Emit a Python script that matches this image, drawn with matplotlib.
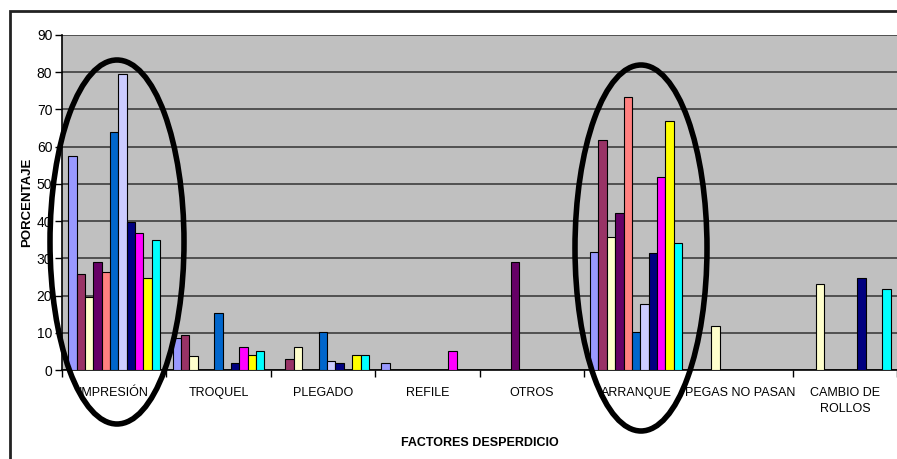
import matplotlib.pyplot as plt
import numpy as np
from matplotlib.patches import Ellipse, Rectangle

categorias = ['IMPRESIÓN', 'TROQUEL', 'PLEGADO', 'REFILE', 'OTROS',
              'ARRANQUE', 'PEGAS NO PASAN', 'CAMBIO DE\nROLLOS']

# porcentaje de desperdicio por factor, una serie por color
s1 = [57.6, 8.5, 0, 1.8, 0, 31.8, 0, 0]
s2 = [25.8, 9.3, 2.9, 0, 0, 61.7, 0, 0]
s3 = [19.7, 3.7, 6.2, 0, 0, 35.6, 11.7, 23.1]
s4 = [28.9, 0, 0, 0, 28.9, 42.1, 0, 0]
s5 = [26.4, 0, 0, 0, 0, 73.3, 0, 0]
s6 = [63.9, 15.2, 10.2, 0, 0, 10.2, 0, 0]
s7 = [79.5, 0, 2.5, 0, 0, 17.7, 0, 0]
s8 = [39.8, 2.0, 2.0, 0, 0, 31.5, 0, 24.6]
s9 = [36.7, 6.2, 0, 5.0, 0, 51.8, 0, 0]
s10 = [24.6, 3.9, 3.9, 0, 0, 67.0, 0, 0]
s11 = [34.9, 5.0, 3.9, 0, 0, 34.1, 0, 21.8]
series = [s1, s2, s3, s4, s5, s6, s7, s8, s9, s10, s11]
colores = ['#9999FF', '#993366', '#FFFFCC', '#660066', '#FF8080', '#0066CC',
           '#CCCCFF', '#000080', '#FF00FF', '#FFFF00', '#00FFFF']

plt.rcParams['font.family'] = ['Liberation Sans', 'DejaVu Sans']

W, H = 897, 459
fig = plt.figure(figsize=(W / 100, H / 100), dpi=100)
ax = fig.add_axes([62 / W, (H - 370) / H, (W - 62) / W, (370 - 35) / H])
ax.set_facecolor('#C0C0C0')

n = len(series)
ancho = 1 / (n + 1.5)
x = np.arange(len(categorias))
for j, (vals, c) in enumerate(zip(series, colores)):
    vals = np.array(vals, dtype=float)
    m = vals > 0
    ax.bar(x[m] + (j - (n - 1) / 2) * ancho, vals[m], width=ancho,
           color=c, edgecolor='black', linewidth=0.8, zorder=3)

ax.set_xlim(-0.5, len(categorias) - 0.5)
ax.set_ylim(0, 90)
ax.set_yticks(np.arange(0, 91, 10))
ax.yaxis.grid(True, color='#505050', linewidth=1.4, zorder=1)
ax.set_axisbelow(True)

ax.set_xticks(np.arange(len(categorias) + 1) - 0.5)
ax.set_xticklabels([])
ax.set_xticks(x, minor=True)
ax.set_xticklabels(categorias, minor=True, fontsize=9, linespacing=1.45)
ax.tick_params(axis='x', which='minor', length=0, pad=12)
ax.tick_params(axis='x', which='major', length=5, width=1)
ax.tick_params(axis='y', labelsize=10, length=5, width=1, pad=2)

for s in ['top', 'right']:
    ax.spines[s].set_visible(False)
ax.spines['left'].set_linewidth(1.2)
ax.spines['bottom'].set_linewidth(1.2)

ax.set_ylabel('PORCENTAJE', fontsize=9.5, fontweight='bold')
ax.yaxis.set_label_coords(-29 / 835, 0.5)
ax.set_xlabel('FACTORES DESPERDICIO', fontsize=9, fontweight='bold')
ax.xaxis.set_label_coords(0.5, -(437 - 370) / 335)

# marco exterior del grafico
fig.add_artist(Rectangle((10 / W, -0.1), 1.0, 1 - 11 / H + 0.1, transform=fig.transFigure,
                         fill=False, edgecolor='#222222', linewidth=2))

# elipses que resaltan impresion y arranque
for cx, cy, w, h in [(117, 242, 134, 364), (641, 248, 132, 366)]:
    fig.add_artist(Ellipse((cx / W, 1 - cy / H), w / W, h / H, transform=fig.transFigure,
                           fill=False, edgecolor='black', linewidth=4, zorder=10))

fig.savefig('out.png', dpi=100)
